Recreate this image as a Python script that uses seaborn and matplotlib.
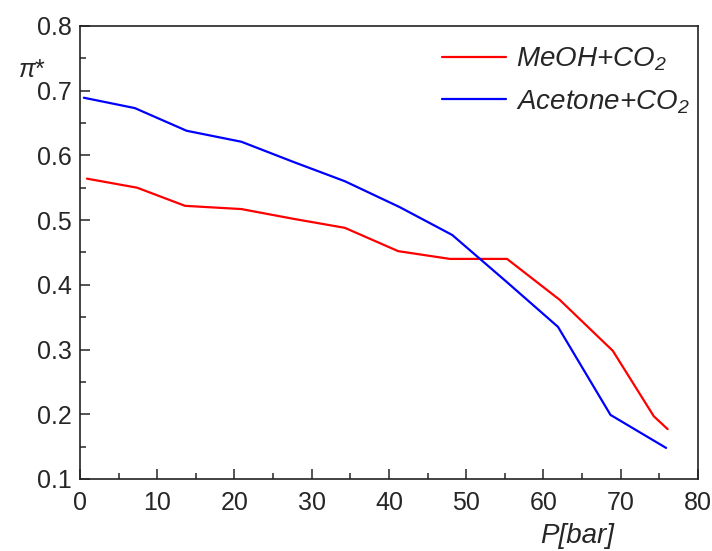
import pandas as pd
import numpy as np
import matplotlib
matplotlib.use("Agg")
import matplotlib.pyplot as plt
from matplotlib.ticker import MultipleLocator
import seaborn as sns

pressure_meoh = [0.9, 7.4, 13.6, 20.9, 27.6, 34.3, 41.2, 47.9, 55.3, 62.1, 69.0, 74.3, 76.1]
pi_meoh = [0.564, 0.550, 0.522, 0.517, 0.502, 0.488, 0.452, 0.440, 0.440, 0.377, 0.298, 0.197, 0.177]

pressure_acetone = [0.5, 7.1, 13.8, 20.9, 27.6, 34.3, 41.4, 48.2, 55.2, 61.9, 68.7, 75.9]
pi_acetone = [0.689, 0.673, 0.638, 0.621, 0.590, 0.560, 0.520, 0.477, 0.405, 0.335, 0.199, 0.148]

series_labels = ["MeOH+CO$_2$", "Acetone+CO$_2$"]

df = pd.concat([
    pd.DataFrame({"P": pressure_meoh, "pi": pi_meoh, "system": series_labels[0]}),
    pd.DataFrame({"P": pressure_acetone, "pi": pi_acetone, "system": series_labels[1]}),
])

sns.set_style("ticks")
plt.rcParams["font.family"] = ["Liberation Sans", "DejaVu Sans"]
plt.rcParams["mathtext.fontset"] = "custom"
plt.rcParams["mathtext.rm"] = "Liberation Sans:italic"
plt.rcParams["mathtext.it"] = "Liberation Sans:italic"

fig = plt.figure(figsize=(7.12, 5.51), dpi=100)
ax = fig.add_axes([0.1124, 0.1307, 0.8676, 0.8223])

sns.lineplot(data=df, x="P", y="pi", hue="system", palette=["#ff0000", "#0000ff"],
             linewidth=1.6, sort=False, estimator=None, ax=ax)

ax.set_xlim(0, 80)
ax.set_ylim(0.1, 0.8)
ax.xaxis.set_major_locator(MultipleLocator(10))
ax.xaxis.set_minor_locator(MultipleLocator(5))
ax.yaxis.set_major_locator(MultipleLocator(0.1))
ax.yaxis.set_minor_locator(MultipleLocator(0.05))
ax.yaxis.set_major_formatter(plt.FuncFormatter(lambda v, p: f"{v:.1f}"))
ax.tick_params(which="both", direction="in", top=False, right=False, width=1.1, labelsize=18)
ax.tick_params(which="major", length=7)
ax.tick_params(which="minor", length=4)
ax.tick_params(axis="x", pad=9)
ax.tick_params(axis="y", pad=6)
for s in ax.spines.values():
    s.set_linewidth(1.2)
    s.set_color("#222222")

ax.set_xlabel("")
ax.set_ylabel("")
ax.text(0.804, -0.125, "P[bar]", transform=ax.transAxes, ha="center", va="center",
        fontsize=20, style="italic")
fig.text(0.045, 0.873, r"$\pi$*", ha="center", va="center", fontsize=18)

leg = ax.legend(loc="upper right", bbox_to_anchor=(1.018, 1.0), frameon=False, fontsize=20,
                handlelength=2.3, handletextpad=0.35, borderaxespad=0.05, borderpad=0.65,
                labelspacing=0.55)
for t in leg.get_texts():
    t.set_fontstyle("italic")

fig.savefig("out.png", dpi=100)
